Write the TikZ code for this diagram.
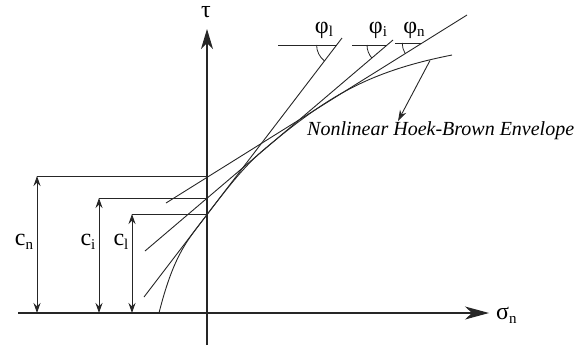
\documentclass[tikz,border=0pt]{standalone}
\usepackage{fontspec}
\setmainfont{Liberation Serif}
\usetikzlibrary{arrows.meta}
\newcommand\lbsub[2]{#1\raisebox{-0.35ex}{\fontsize{15}{15}\selectfont #2}}
\begin{document}
\begin{tikzpicture}[x=1pt,y=-1pt,
  ln/.style={line width=0.9pt, black!85},
  axis/.style={line width=1.1pt, black!85},
  lab/.style={font=\fontsize{24}{24}\selectfont, inner sep=0pt},
  dim/.style={ln, {Stealth[length=10pt,width=7pt]}-{Stealth[length=10pt,width=7pt]}},
  angarc/.style={ln, line width=0.8pt}]
\useasboundingbox (0,0) rectangle (586,349);
% axes
\coordinate (xs) at (18,313);
\coordinate (xe) at (489,313);
\coordinate (ys) at (207,345);
\coordinate (ye) at (207,29);
\draw[axis,-{Stealth[length=20pt,width=12pt,inset=6pt]}] (ys) -- (ye);
\draw[axis,-{Stealth[length=24pt,width=13pt,inset=7pt]}] (xs) -- (xe);
\node[lab] (tau) at (206,12) {τ};
\node[lab,anchor=west] (sig) at (496,315) {\lbsub{σ}{n}};
% cohesion dimensions
\coordinate (cnb) at (37,313);  \coordinate (cnt) at (37,176);  \coordinate (cna) at (207,176);
\coordinate (cib) at (99,313);  \coordinate (cit) at (99,198);  \coordinate (cia) at (207,198);
\coordinate (clb) at (132,313); \coordinate (clt) at (132,214); \coordinate (cla) at (207,214);
\draw[dim] (cnb) -- (cnt);
\draw[dim] (cib) -- (cit);
\draw[dim] (clb) -- (clt);
\draw[ln] (cnt) -- (cna);
\draw[ln] (cit) -- (cia);
\draw[ln] (clt) -- (cla);
\node[lab] (cn) at (24,242) {\lbsub{c}{n}};
\node[lab] (ci) at (88,242) {\lbsub{c}{i}};
\node[lab] (cl) at (121,242) {\lbsub{c}{l}};
% tangent lines
\coordinate (l1) at (144,297); \coordinate (l2) at (342,38);
\coordinate (i1) at (145,251); \coordinate (i2) at (393,40);
\coordinate (n1) at (166,203); \coordinate (n2) at (467,15);
\draw[ln] (l1) -- (l2);
\draw[ln] (i1) -- (i2);
\draw[ln] (n1) -- (n2);
% friction angle marks
\coordinate (hl1) at (278,45); \coordinate (hl2) at (336.6,45);
\coordinate (hi1) at (352,45); \coordinate (hi2) at (387,45);
\coordinate (hn1) at (395,43); \coordinate (hn2) at (422.2,43);
\draw[ln] (hl1) -- (hl2);
\draw[ln] (hi1) -- (hi2);
\draw[ln] (hn1) -- (hn2);
\draw[angarc] (316.6,45) arc[start angle=180, end angle=127.4, radius=20];
\draw[angarc] (367,45) arc[start angle=180, end angle=139.6, radius=20];
\draw[angarc] (402.2,43) arc[start angle=180, end angle=148, radius=20];
\node[lab] (pl) at (324,30) {\lbsub{φ}{l}};
\node[lab] (pi) at (378,30) {\lbsub{φ}{i}};
\node[lab] (pn) at (414,30) {\lbsub{φ}{n}};
% envelope
\coordinate (e0) at (159,313);
\coordinate (e4) at (452,55);
\draw[ln] (e0) .. controls (172.7,258.3) and (186.3,241.7) .. (200,223.8)
  .. controls (220.7,196.7) and (241.3,168.8) .. (262,151.2)
  .. controls (284.7,131.9) and (307.3,114.3) .. (330,100.1)
  .. controls (370.7,74.7) and (411.3,63.1) .. (e4);
\node[font=\itshape\fontsize{20}{20}\selectfont, anchor=base west, inner sep=0pt] (env) at (307,135) {Nonlinear Hoek-Brown Envelope};
\coordinate (ea) at (430,60.5);
\draw[ln,-{Stealth[length=11pt,width=7pt]}] (ea) -- (398,121);
\end{tikzpicture}
\end{document}
